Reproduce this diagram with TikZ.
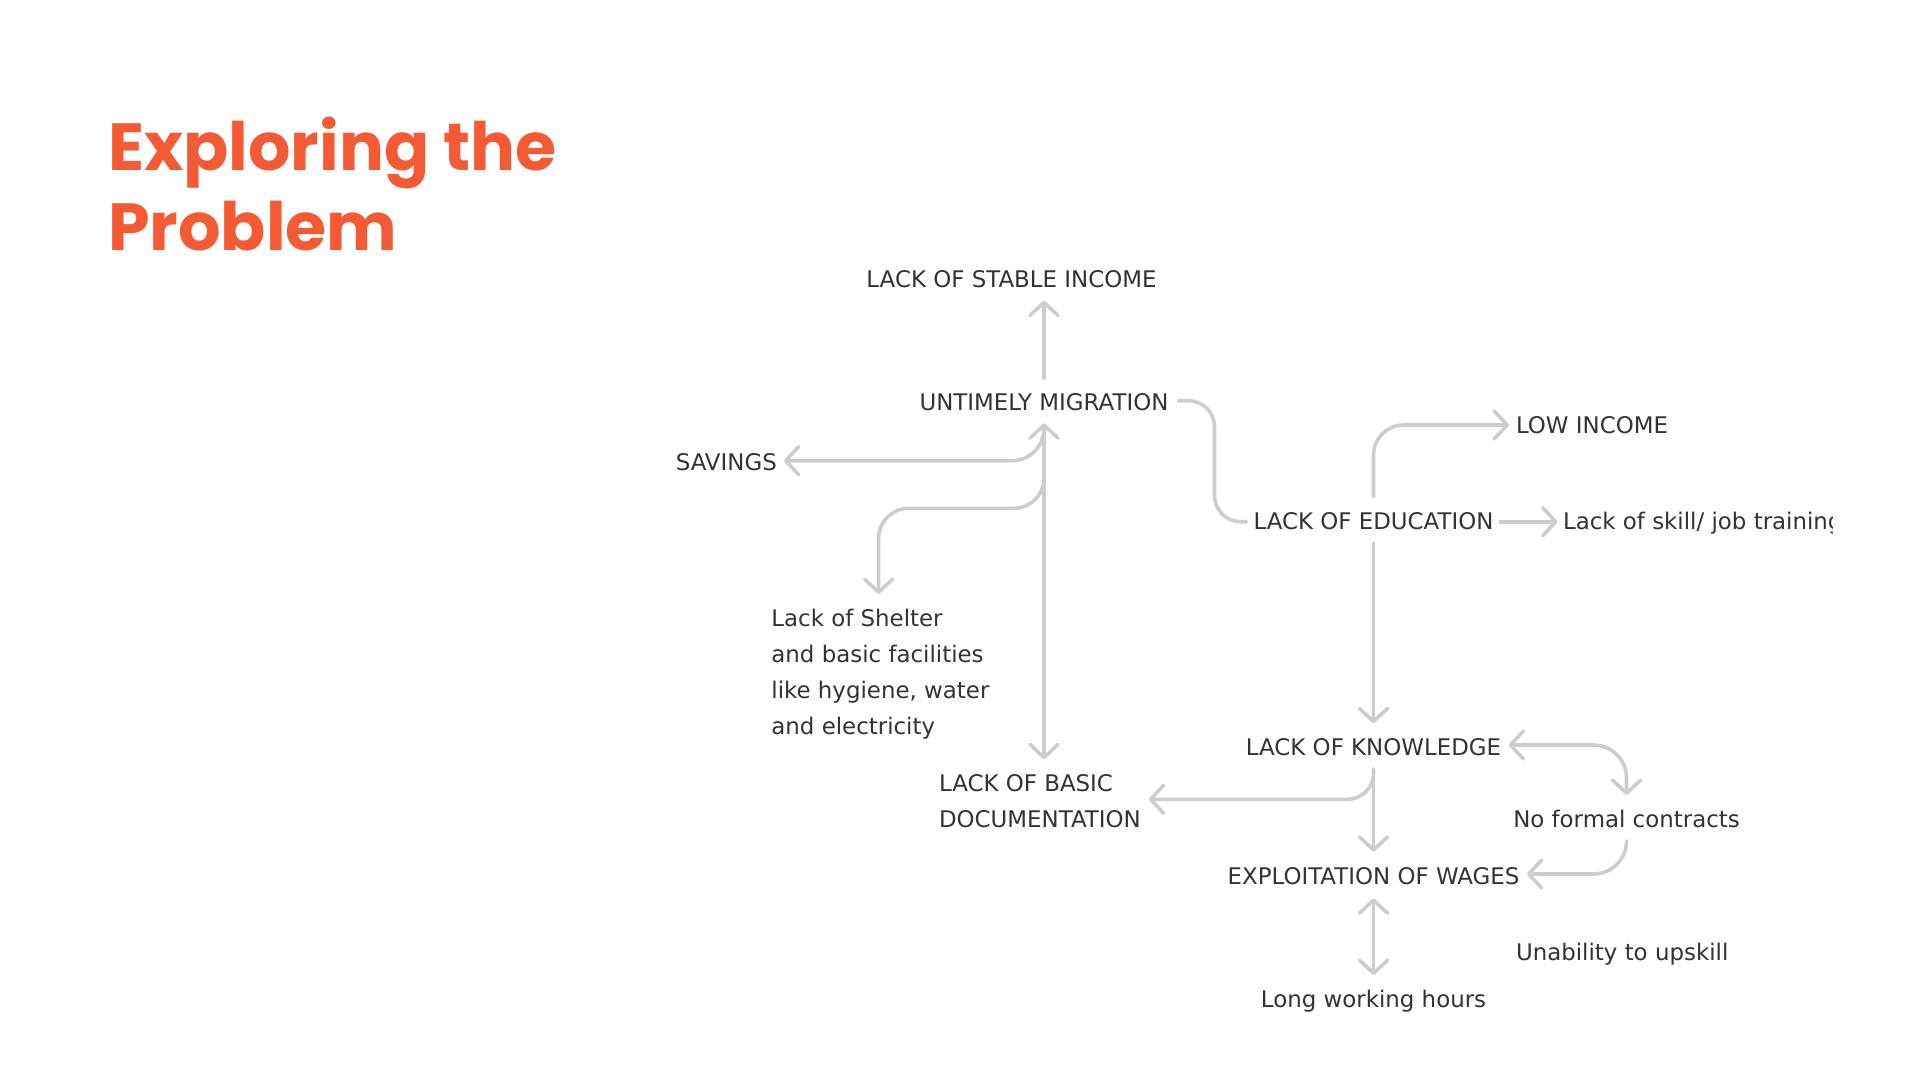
\documentclass[tikz,border=0pt]{standalone}
\usepackage{fontspec}
\setmainfont{DejaVu Sans}
\newfontfamily\titlefont{Poppins}
\usetikzlibrary{arrows.meta,calc}
\definecolor{txt}{RGB}{51,51,51}
\definecolor{ln}{RGB}{205,205,205}
\definecolor{ttl}{RGB}{244,91,52}
\begin{document}
\begin{tikzpicture}[x=1pt,y=-1pt,
  lbl/.style={inner sep=0pt,outer sep=0pt,text=txt,font=\fontsize{22.9}{35.8}\selectfont},
  conn/.style={draw=ln,line width=3.6pt,line cap=round,line join=round},
  >={Straight Barb[length=13pt,width=28pt,round]}]
\fill[white] (0,0) rectangle (1920,1080);
\useasboundingbox (0,0) rectangle (1920,1080);

% title
\node[anchor=base west,inner sep=0pt,text=ttl,font=\titlefont\bfseries\fontsize{66.7}{80}\selectfont] (title) at (108,170)
  {\begin{tabular}[t]{@{}l@{}}Exploring the\\Problem\end{tabular}};

% nodes
\node[lbl,anchor=base] (stable) at (1011.5,287.3) {LACK OF STABLE INCOME};
\node[lbl,anchor=base] (migr) at (1044,410) {UNTIMELY MIGRATION};
\node[lbl,anchor=base] (sav) at (726.3,470) {SAVINGS};
\node[lbl,anchor=base west] (lowinc) at (1516,433) {LOW INCOME};
\node[lbl,anchor=base] (edu) at (1373.5,529) {LACK OF EDUCATION};
\begin{scope}
\clip (1540,490) rectangle (1832,545);
\node[lbl,anchor=base west] (skill) at (1563,529) {Lack of skill/ job training};
\end{scope}
\node[lbl,anchor=base west] (shelter) at (771.4,626.7)
  {\begin{tabular}[t]{@{}l@{}}Lack of Shelter\\and basic facilities\\like hygiene, water\\and electricity\end{tabular}};
\node[lbl,anchor=base west] (doc) at (939,791.7)
  {\begin{tabular}[t]{@{}l@{}}LACK OF BASIC\\DOCUMENTATION\end{tabular}};
\node[lbl,anchor=base] (know) at (1373.5,755) {LACK OF KNOWLEDGE};
\node[lbl,anchor=base] (formal) at (1626.5,827) {No formal contracts};
\node[lbl,anchor=base] (wages) at (1373.5,884) {EXPLOITATION OF WAGES};
\node[lbl,anchor=base west] (upskill) at (1516,960) {Unability to upskill};
\node[lbl,anchor=base] (hours) at (1373.5,1007.3) {Long working hours};

% connectors
\draw[conn,->] ($(migr.base)+(0,-32)$) -- ($(migr.base |- stable.base)+(0,13.4)$);
\draw[conn,<->] ($(migr.base)+(0,13.3)$) -- ($(migr.base |- doc.base)+(0,-32.4)$);
\draw[conn,->,rounded corners=32] ($(migr.base)+(0,15)$) |- ($(sav.base east)+(7,-9.3)$);
\draw[conn,->,rounded corners=30] ($(migr.base)+(0,60)$) |- ($(shelter.base west)+(107.2,-118.4)$) -- ($(shelter.base west)+(107.2,-32.7)$);
\draw[conn,rounded corners=26] ($(migr.base east)+(10,-9.3)$) -| ($(edu.base west)+(-39,-7.3)$) -- ($(edu.base west)+(-7,-7.3)$);
\draw[conn,->,rounded corners=30] ($(edu.base)+(0,-32.3)$) |- ($(lowinc.base west)+(-7,-8)$);
\draw[conn,->] ($(edu.base east)+(7,-7.3)$) -- ($(skill.base west)+(-5.5,-7.3)$);
\draw[conn,->] ($(edu.base)+(0,14)$) -- ($(edu.base |- know.base)+(0,-31.7)$);
\draw[conn,->,rounded corners=26] ($(know.base)+(0,14)$) |- ($(doc.base east)+(8,7.6)$);
\draw[conn,<->,rounded corners=33] ($(know.base east)+(7.5,-10)$) -| ($(formal.base)+(0,-32)$);
\draw[conn,->] ($(know.base)+(0,14)$) -- ($(know.base |- wages.base)+(0,-32.3)$);
\draw[conn,->,rounded corners=33] ($(formal.base)+(0,15.7)$) |- ($(wages.base east)+(7.5,-10)$);
\draw[conn,<->] ($(wages.base)+(0,14.3)$) -- ($(wages.base |- hours.base)+(0,-32.3)$);
\end{tikzpicture}
\end{document}
